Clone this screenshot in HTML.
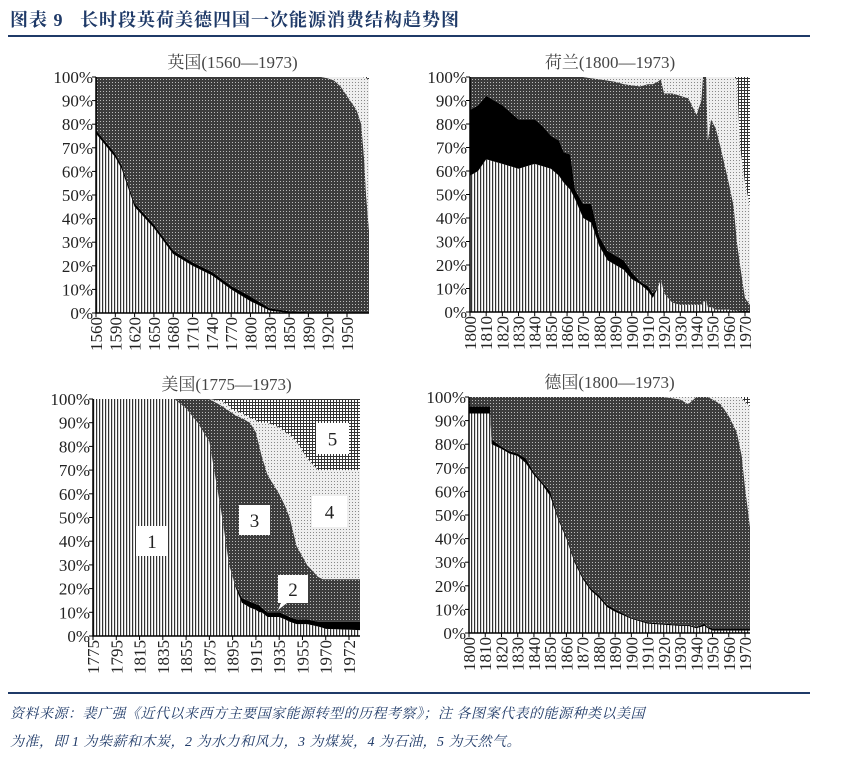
<!DOCTYPE html>
<html><head><meta charset="utf-8"><style>
body{margin:0;background:#fff;width:849px;height:765px;overflow:hidden;position:relative;font-family:"Liberation Serif","Noto Serif CJK SC",serif}
.hdr{position:absolute;left:10px;top:6px;font:bold 18px "Liberation Serif","Noto Serif CJK SC",serif;color:#1f3a68;letter-spacing:1px}
.hline{position:absolute;left:8px;width:802px;height:2px;background:#1f3a68}
.foot{position:absolute;left:10px;font:italic 14px "Liberation Serif","Noto Serif CJK SC",serif;color:#1f3a68;letter-spacing:0.5px}
</style></head><body>
<div class="hdr">图表 9&nbsp;&nbsp;&nbsp;长时段英荷美德四国一次能源消费结构趋势图</div>
<div class="hline" style="top:35px"></div>
<svg id="c" width="849" height="765" style="position:absolute;left:0;top:0">
<defs>
<pattern id="pWood" width="3" height="3" patternUnits="userSpaceOnUse"><rect width="3" height="3" fill="#fff"/><rect width="1.2" height="3" fill="#333"/></pattern>
<pattern id="pCoal" width="3" height="3" patternUnits="userSpaceOnUse"><rect width="3" height="3" fill="#3c3c3c"/><rect x="1" y="1" width="1" height="1" fill="#bbb"/></pattern>
<pattern id="pOil" width="3" height="3" patternUnits="userSpaceOnUse"><rect width="3" height="3" fill="#eee"/><rect x="1" y="1" width="1" height="1" fill="#888"/></pattern>
<pattern id="pGas" width="3" height="3" patternUnits="userSpaceOnUse"><rect width="3" height="3" fill="#fff"/><rect width="3" height="1" fill="#333"/><rect width="1" height="3" fill="#333"/></pattern>
</defs>
</svg>
<div class="hline" style="top:692px"></div>
<div class="foot" style="top:703px">资料来源：裴广强《近代以来西方主要国家能源转型的历程考察》；注 各图案代表的能源种类以美国</div>
<div class="foot" style="top:731px">为准，即 1 为柴薪和木炭，2 为水力和风力，3 为煤炭，4 为石油，5 为天然气。</div>
<script>
// ---- UK data (cumulative stacked shares, %) ----
const ukYears=[1560,1590,1600,1620,1650,1680,1710,1740,1770,1800,1830,1850,1890,1910,1920,1930,1940,1950,1960,1965,1968,1970,1973];
const ukWood=[76,66,61,45,36,25,20,16,10,5,1,0,0,0,0,0,0,0,0,0,0,0,0];
const ukWoodWater=[77.5,67.5,62.5,46.5,37.5,26.5,21.5,17.5,11.5,7,2,0.7,0.3,0,0,0,0,0,0,0,0,0,0];
const ukCoal=[100,100,100,100,100,100,100,100,100,100,100,100,100,100,99.5,98.5,96,92,86,80,65,50,35];
const ukOil=[100,100,100,100,100,100,100,100,100,100,100,100,100,100,100,100,100,100,100,100,99.8,99.5,99];
const ukTicks=[1560,1590,1620,1650,1680,1710,1740,1770,1800,1830,1850,1890,1920,1950];
// ---- Netherlands ----
const nlYears=[1800,1805,1810,1815,1820,1825,1830,1835,1840,1845,1850,1855,1858,1862,1865,1870,1875,1880,1885,1890,1895,1900,1905,1910,1913,1916,1918,1920,1925,1930,1935,1940,1943,1944,1946,1947,1949,1952,1955,1960,1963,1965,1967,1970,1973];
const nlWood=[58,60,65,64,63,62,61,62,63,62,61,58,55,52,48,40,38,28,22,20,18,14,12,9,6,10,14,8,4,3,3,3,3,4,5,2,2,1,1,1,0.5,0.5,0,0,0];
const nlWoodWater=[86,88,92,90,88,85,82,82,82,79,75,73,68,67,52,46,46,32,26,24,22,17,13,11,8,10,14,8,4,3,3,3,3,4,5,2,2,1,1,1,0.5,0.5,0,0,0];
const nlCoal=[100,100,100,100,100,100,100,100,100,100,100,100,100,100,100,100,99.5,99,98.5,98,97,96.5,96,97,97,98,99,93,93,92,91,84,90,100,100,73,82,78,70,55,45,30,20,6,3];
const nlOil=[100,100,100,100,100,100,100,100,100,100,100,100,100,100,100,100,100,100,100,100,100,100,100,100,100,100,100,100,100,100,100,100,100,100,100,100,100,100,100,100,100,99,70,55,45];
const nlTicks=[1800,1810,1820,1830,1840,1850,1860,1870,1880,1890,1900,1910,1920,1930,1940,1950,1960,1970];
// ---- USA ----
const usYears=[1775,1845,1855,1865,1875,1886,1892,1895,1898,1903,1910,1915,1918,1920,1925,1935,1940,1944,1950,1958,1965,1968,1970,1973];
const usWood=[100,100,96,90,82,50,30,25,20,14,12,11,10,10,8,8,7,6,5,5,4,3.5,3,2.5];
const usWoodWater=[100,100,96,90,82,50,30,25,21,16,14.5,13.5,13,12,10,10,9,8,7,7,6,6,6,6];
const usCoal=[100,100,100,100,100,97,95,94,93,92,90,86,80,76,68,60,55,50,38,30,25,24,24,24];
const usOil=[100,100,100,100,100,99,97,95,95,94,92,91,90,90,90,88,86,85,82,75,70,70,70,70];
const usTicks=[1775,1795,1815,1835,1855,1875,1895,1915,1935,1955,1970,1972];
// ---- Germany ----
const deYears=[1800,1813,1814,1820,1825,1830,1835,1840,1845,1850,1855,1860,1865,1870,1875,1880,1885,1890,1900,1910,1920,1930,1935,1940,1945,1947,1950,1955,1960,1965,1968,1970,1973];
const deWood=[93,93,80,78,76,75,72,67,63,58,48,40,30,23,18,15,11,9,6,4,3.5,3,3,2,3,2,1,1,1,1,1,1,1];
const deWoodWater=[96,96,82,79,77,76,74,68,64,60,49,41,31,24,19,16,12,10,6.5,4.5,4,3.5,3.5,2.5,4,2.5,2,2,2,2,2,2,2];
const deCoal=[100,100,100,100,100,100,100,100,100,100,100,100,100,100,100,100,100,100,100,100,100,99,97,100,100,100,99,97,92,85,75,62,45];
const deOil=[100,100,100,100,100,100,100,100,100,100,100,100,100,100,100,100,100,100,100,100,100,100,100,100,100,100,100,100,100,100,99.5,98,96];
const deTicks=[1800,1810,1820,1830,1840,1850,1860,1870,1880,1890,1900,1910,1920,1930,1940,1950,1960,1970];

const NS='http://www.w3.org/2000/svg';
const svg=document.getElementById('c');
function mk(tag,attrs,parent){const e=document.createElementNS(NS,tag);for(const k in attrs)e.setAttribute(k,attrs[k]);(parent||svg).appendChild(e);return e;}

function panel(p){
  const g=mk('g',{});
  
  
  const step=(p.lastTickX-p.x0)/(p.ticks.length-1);
  const tx=p.ticks.map((t,i)=>p.x0+i*step);
  const ky=p.ticks.concat([p.endYear]);
  const kx=tx.concat([p.x1]);
  function xs(y){
    if(y<=ky[0])return kx[0];
    for(let i=1;i<ky.length;i++){if(y<=ky[i])return kx[i-1]+(y-ky[i-1])/(ky[i]-ky[i-1])*(kx[i]-kx[i-1]);}
    return kx[kx.length-1];
  }
  const ys=v=>p.y0-(v/100)*(p.y0-p.y1);
  const zero=p.years.map(()=>0), full=p.years.map(()=>100);
  const layers=[[zero,p.wood,'pWood','wood-area'],[p.wood,p.ww,'#000','water-wind-area'],[p.ww,p.coal,'pCoal','coal-area'],[p.coal,p.oil,'pOil','oil-area'],[p.oil,full,'pGas','gas-area']];
  layers.forEach(([lo,hi,f,nm])=>{
    let d='';
    p.years.forEach((y,i)=>{d+=(i?'L':'M')+xs(y).toFixed(1)+','+ys(hi[i]).toFixed(1);});
    for(let i=p.years.length-1;i>=0;i--)d+='L'+xs(p.years[i]).toFixed(1)+','+ys(lo[i]).toFixed(1);
    const e=mk('path',{d:d+'Z',fill:f.startsWith('#')?f:'url(#'+f+')',stroke:'none'},g);
    
    
  });
  // axes
  const ax=mk('path',{d:`M${p.x0},${p.y1}V${p.y0}H${p.x1}`,stroke:'#000','stroke-width':1.5,fill:'none'},g);
  
  
  for(let v=0;v<=100;v+=10){
    mk('line',{x1:p.x0-4,x2:p.x0,y1:ys(v),y2:ys(v),stroke:'#000'},g);
    const t=mk('text',{x:p.x0-3,y:ys(v)+6,'text-anchor':'end','font-size':17,fill:'#222','font-family':'Liberation Serif, serif'},g);
    t.textContent=v+'%';
    
    
  }
  p.ticks.forEach((yr,i)=>{
    mk('line',{x1:tx[i],x2:tx[i],y1:p.y0,y2:p.y0+4,stroke:'#000'},g);
    const t=mk('text',{transform:`translate(${tx[i]+6},${p.y0+4}) rotate(-90)`,'text-anchor':'end','font-size':17,fill:'#222','font-family':'Liberation Serif, serif'},g);
    t.textContent=yr;
    
    
  });
  const ti=mk('text',{x:(p.x0+p.x1)/2,y:p.y1-9,'text-anchor':'middle','font-size':17,fill:'#444','font-family':'Liberation Serif, Noto Serif CJK SC, serif'},g);
  ti.textContent=p.title;
  
  
  return {xs,ys,g};
}
panel({key:'uk',title:'英国(1560—1973)',years:ukYears,wood:ukWood,ww:ukWoodWater,coal:ukCoal,oil:ukOil,ticks:ukTicks,endYear:1973,x0:96,lastTickX:347,x1:369,y0:313,y1:77});
panel({key:'nl',title:'荷兰(1800—1973)',years:nlYears,wood:nlWood,ww:nlWoodWater,coal:nlCoal,oil:nlOil,ticks:nlTicks,endYear:1973,x0:470,lastTickX:745,x1:750,y0:312,y1:77});
const us=panel({key:'us',title:'美国(1775—1973)',years:usYears,wood:usWood,ww:usWoodWater,coal:usCoal,oil:usOil,ticks:usTicks,endYear:1973,x0:93,lastTickX:349,x1:360,y0:636,y1:399});
panel({key:'de',title:'德国(1800—1973)',years:deYears,wood:deWood,ww:deWoodWater,coal:deCoal,oil:deOil,ticks:deTicks,endYear:1973,x0:469,lastTickX:745,x1:750,y0:633,y1:397});
// numbered labels on US chart
[['1',136,526,32,30],['3',239,505,31,30],['2',278,575,30,28],['4',312,496,35,31],['5',316,423,33,31]].forEach(([n,x,y,w,h])=>{
  const r=mk('rect',{x,y,width:w,height:h,fill:'#fff'},us.g);
  
  
  const t=mk('text',{x:x+w/2,y:y+h/2+7,'text-anchor':'middle','font-size':19,fill:'#222','font-family':'Liberation Serif, serif'},us.g);
  t.textContent=n;
  
  
});
mk('path',{d:'M281,603 L278,610 L287,603Z',fill:'#fff'},us.g);
</script>
</body></html>
